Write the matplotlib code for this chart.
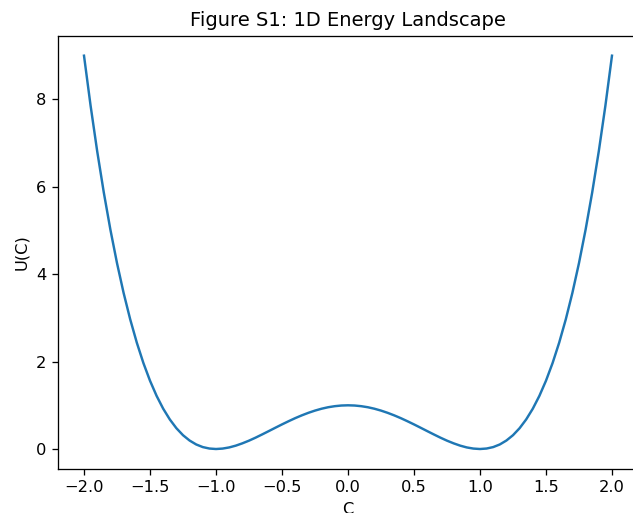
import matplotlib
matplotlib.use("Agg")
import matplotlib.pyplot as plt

# C values, step 0.05 from -2 to 2
c_vals = [-2.00, -1.95, -1.90, -1.85, -1.80, -1.75, -1.70, -1.65, -1.60, -1.55,
          -1.50, -1.45, -1.40, -1.35, -1.30, -1.25, -1.20, -1.15, -1.10, -1.05,
          -1.00, -0.95, -0.90, -0.85, -0.80, -0.75, -0.70, -0.65, -0.60, -0.55,
          -0.50, -0.45, -0.40, -0.35, -0.30, -0.25, -0.20, -0.15, -0.10, -0.05,
          0.00, 0.05, 0.10, 0.15, 0.20, 0.25, 0.30, 0.35, 0.40, 0.45,
          0.50, 0.55, 0.60, 0.65, 0.70, 0.75, 0.80, 0.85, 0.90, 0.95,
          1.00, 1.05, 1.10, 1.15, 1.20, 1.25, 1.30, 1.35, 1.40, 1.45,
          1.50, 1.55, 1.60, 1.65, 1.70, 1.75, 1.80, 1.85, 1.90, 1.95, 2.00]

# energy
u_vals = [9.000, 7.854, 6.812, 5.869, 5.018, 4.254, 3.572, 2.967, 2.434, 1.967,
          1.563, 1.216, 0.922, 0.677, 0.476, 0.316, 0.194, 0.104, 0.044, 0.011,
          0.000, 0.010, 0.036, 0.077, 0.130, 0.191, 0.260, 0.334, 0.410, 0.487,
          0.563, 0.636, 0.706, 0.770, 0.828, 0.879, 0.922, 0.956, 0.980, 0.995,
          1.000, 0.995, 0.980, 0.956, 0.922, 0.879, 0.828, 0.770, 0.706, 0.636,
          0.563, 0.487, 0.410, 0.334, 0.260, 0.191, 0.130, 0.077, 0.036, 0.010,
          0.000, 0.011, 0.044, 0.104, 0.194, 0.316, 0.476, 0.677, 0.922, 1.216,
          1.563, 1.967, 2.434, 2.967, 3.572, 4.254, 5.018, 5.869, 6.812, 7.854, 9.000]

# original render looks ~1.17x scaled, so use a higher dpi on a smaller canvas
dpi = 117
fig = plt.figure(figsize=(633 / dpi, 513 / dpi), dpi=dpi)
ax = fig.add_axes([0.091, 0.0864, 1.0085 - 0.091, 0.9298 - 0.0864])
ax.plot(c_vals, u_vals)
ax.set_title("Figure S1: 1D Energy Landscape")
ax.set_xlabel("C")
ax.set_ylabel("U(C)")

fig.savefig("out.png", dpi=dpi)
